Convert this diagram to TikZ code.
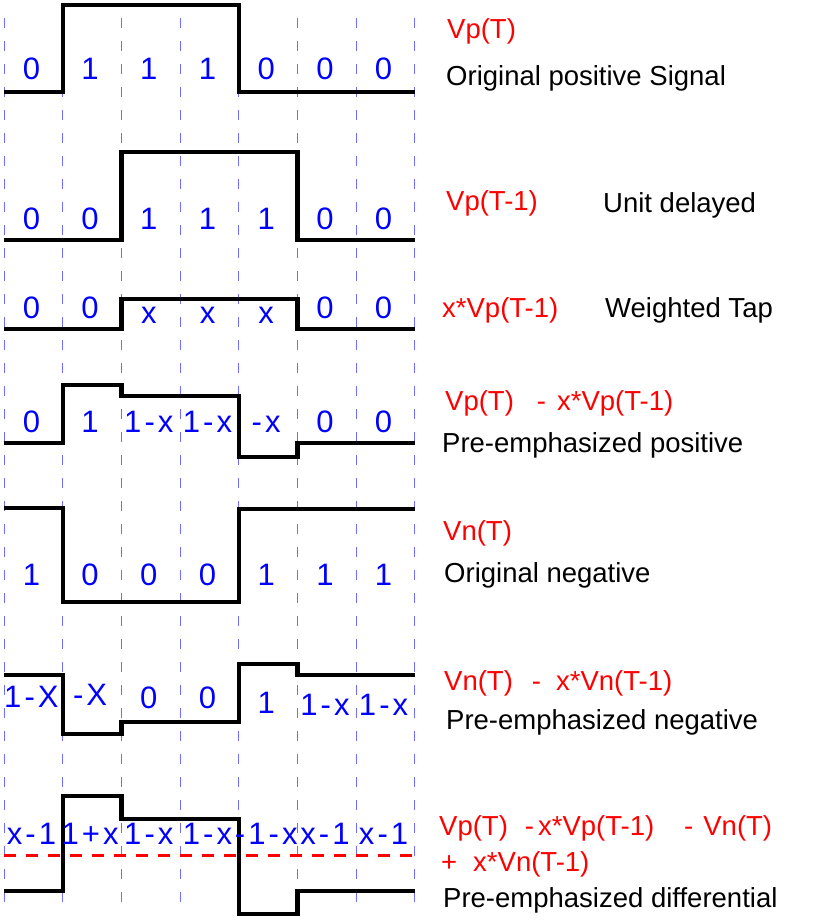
\documentclass[tikz,border=0pt]{standalone}
\usepackage{fontspec}
\setmainfont{Liberation Sans}
\newfontfamily\bitfont[LetterSpace=10]{Liberation Sans}
\usepackage{tikz}
\usepackage{xcolor}
\definecolor{gridblue}{RGB}{110,110,250}

\begin{document}
\begin{tikzpicture}[
    x=1bp,
    y=-1bp,
    gridline/.style={
        draw=gridblue,
        line width=0.9bp,
        dash pattern=on 10bp off 13bp
    },
    wave/.style={
        draw=black,
        line width=4.3bp
    },
    refline/.style={
        draw=red,
        line width=3bp,
        dash pattern=on 12bp off 10bp
    },
    bit/.style={
        anchor=base,
        inner sep=0pt,
        text=blue,
        font=\bitfont\fontsize{31bp}{36bp}\selectfont
    },
    formula/.style={
        anchor=base west,
        inner sep=0pt,
        text=red,
        font=\fontsize{27.5bp}{33bp}\selectfont
    },
    sigtext/.style={
        anchor=base west,
        inner sep=0pt,
        text=black,
        font=\fontsize{27.5bp}{33bp}\selectfont
    }
]
\useasboundingbox (0,0) rectangle (823,921);

\foreach \i in {0,...,7}
    \draw [gridline] ({4+58.7*\i},18) -- ({4+58.7*\i},903);

\draw [wave] (4,92) -| (62.7,5) -| (238.9,92) -- (415,92);
\draw [wave] (4,240) -| (121.4,152) -| (297.6,240) -- (415,240);
\draw [wave] (4,329) -| (121.4,299) -| (297.6,329) -- (415,329);
\draw [wave] (4,443) -| (62.7,385) -| (121.4,396) -| (238.9,457) -| (297.6,443) -- (415,443);
\draw [wave] (4,508) -| (62.7,602) -| (238.9,509) -- (415,509);
\draw [wave] (4,675) -| (62.7,734) -| (121.4,722) -| (238.9,664) -| (297.6,675) -- (415,675);
\draw [wave] (4,891) -| (62.7,796) -| (121.4,819) -| (238.9,914) -| (297.6,891) -- (415,891);
\draw [refline] (4,855) -- (415,855);

\foreach \t [count=\i] in {0,1,1,1,0,0,0}
    \node [bit] (a\i) at ({31.4+58.7*(\i-1)},79) {\t};
\foreach \t [count=\i] in {0,0,1,1,1,0,0}
    \node [bit] (b\i) at ({31.4+58.7*(\i-1)},229) {\t};
\foreach \t/\b [count=\i] in {0/318,0/318,x/323,x/323,x/323,0/318,0/318}
    \node [bit] (c\i) at ({31.4+58.7*(\i-1)},\b) {\t};
\foreach \t [count=\i] in {0,1,1-x,1-x,-x,0,0}
    \node [bit] (d\i) at ({31.4+58.7*(\i-1)},432) {\t};
\foreach \t [count=\i] in {1,0,0,0,1,1,1}
    \node [bit] (e\i) at ({31.4+58.7*(\i-1)},585) {\t};
\foreach \t/\b [count=\i] in {1-X/707,-X/705,0/708,0/708,1/713,1-x/715,1-x/715}
    \node [bit] (f\i) at ({31.4+58.7*(\i-1)},\b) {\t};
\foreach \t [count=\i] in {x-1,1+x,1-x,1-x,-1-x,x-1,x-1}
    \node [bit] (g\i) at ({31.4+58.7*(\i-1)},844) {\t};

\node [formula] (vpt) at (447,38) {Vp(T)};
\node [sigtext] (origpos) at (446,85) {Original positive Signal};
\node [formula] (vpt1) at (446,210) {Vp(T-1)};
\node [sigtext] (delayed) at (603,212) {Unit delayed};
\node [formula] (xvpt1) at (442,317) {x*Vp(T-1)};
\node [sigtext] (tap) at (605,317) {Weighted Tap};
\node [formula] (vpemph) at (445,410) {Vp(T)\hspace{23bp}-\hspace{11bp}x*Vp(T-1)};
\node [sigtext] (prepos) at (442,452) {Pre-emphasized positive};
\node [formula] (vnt) at (443,540) {Vn(T)};
\node [sigtext] (orighneg) at (444,582) {Original negative};
\node [formula] (vnemph) at (444,690) {Vn(T)\hspace{19bp}-\hspace{15bp}x*Vn(T-1)};
\node [sigtext] (preneg) at (446,729) {Pre-emphasized negative};
\node [formula] (difftop) at (439,835) {Vp(T)\hspace{17bp}-\hspace{4bp}x*Vp(T-1)\hspace{30bp}-\hspace{10bp}Vn(T)};
\node [formula] (diffbot) at (441,871) {+\hspace{16bp}x*Vn(T-1)};
\node [sigtext] (prediff) at (443,907) {Pre-emphasized differential};
\end{tikzpicture}
\end{document}
